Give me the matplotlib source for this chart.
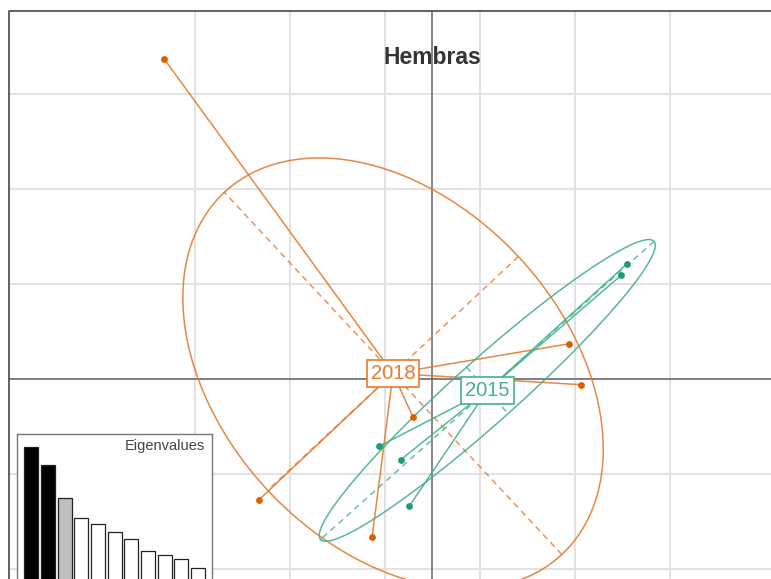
import matplotlib.pyplot as plt
import numpy as np

# scores of the individuals on the two first axes, by group
orange_x = [-2.82, 1.44, 1.57, -0.20, -1.82, -0.63, -0.41]
orange_y = [3.37, 0.37, -0.06, -0.40, -1.27, -1.66, 0.06]
green_x = [2.05, 1.99, -0.56, -0.33, -0.24]
green_y = [1.21, 1.09, -0.71, -0.85, -1.34]

groups = ["2018", "2015"]
eigenvalues = [14.3, 12.5, 9.2, 7.2, 6.6, 5.8, 5.1, 3.9, 3.5, 3.1, 2.2]
eig_colors = ["black", "black", "#BEBEBE"] + ["white"] * 8

title = "Hembras"
cellipse = 1.5

W, H = 771, 579
PX = 95.0           # pixels per unit
X0, Y0 = 432, 379   # origin in pixels


def ellipse(x, y, c):
    x = np.asarray(x)
    y = np.asarray(y)
    m = np.array([x.mean(), y.mean()])
    d = np.vstack([x - m[0], y - m[1]])
    cov = d @ d.T / len(x)
    vals, vecs = np.linalg.eigh(cov)
    a = c * np.sqrt(vals[1]) * vecs[:, 1]
    b = c * np.sqrt(vals[0]) * vecs[:, 0]
    t = np.linspace(0, 2 * np.pi, 200)
    pts = m[:, None] + np.outer(a, np.cos(t)) + np.outer(b, np.sin(t))
    return m, a, b, pts


plt.rcParams["font.family"] = ["Liberation Sans", "DejaVu Sans"]

fig = plt.figure(figsize=(W / 100, H / 100), dpi=100)
ax = fig.add_axes([0, 0, 1, 1])
ax.set_xlim(-X0 / PX, (W - X0) / PX)
ax.set_ylim((Y0 - H) / PX, Y0 / PX)
ax.axis("off")

left = (9 - X0) / PX
top = (Y0 - 11) / PX
right = ax.get_xlim()[1] + 1
bottom = ax.get_ylim()[0] - 1

# grid
for gx in np.arange(-2.5, 3.0, 1.0):
    ax.plot([gx, gx], [bottom, top], color="#E2E2E2", lw=1.4, zorder=0)
for gy in np.arange(-2, 4, 1):
    ax.plot([left, right], [gy, gy], color="#E2E2E2", lw=1.4, zorder=0)

# origin lines and frame
ax.plot([0, 0], [bottom, top], color="#666666", lw=1.1, zorder=2)
ax.plot([left, right], [0, 0], color="#666666", lw=1.1, zorder=2)
ax.plot([left, left, right], [bottom, top, top], color="#555555", lw=1.3, zorder=2)

ax.text(0, (Y0 - 58) / PX, title, ha="center", va="center", fontsize=16.5,
        fontweight="bold", color="#333333", zorder=1.5)

series = [
    (orange_x, orange_y, "#D95F02", "#E57A2E"),
    (green_x, green_y, "#1B9E77", "#45B08E"),
]

for (xs, ys, pcol, lcol), name in zip(series, groups):
    m, a, b, pts = ellipse(xs, ys, cellipse)
    ax.plot(pts[0], pts[1], color=lcol, lw=1.1, alpha=0.9, zorder=3)
    for v in (a, b):
        ax.plot([m[0] - v[0], m[0] + v[0]], [m[1] - v[1], m[1] + v[1]],
                color=lcol, lw=1.1, ls=(0, (4, 3)), alpha=0.8, zorder=3)
    for px, py in zip(xs, ys):
        ax.plot([m[0], px], [m[1], py], color=lcol, lw=1.1, alpha=0.9, zorder=3)
    ax.scatter(xs, ys, s=24, color=pcol, zorder=4, linewidths=0)
    ax.text(m[0], m[1], name, ha="center", va="center", fontsize=14.5,
            color=lcol, zorder=5,
            bbox=dict(boxstyle="square,pad=0.2", fc="white", ec=lcol, lw=1.2))

# eigenvalues inset
ins = fig.add_axes([17 / W, (H - 600) / H, (212 - 17) / W, (600 - 434) / H])
ins.bar(range(len(eigenvalues)), eigenvalues, width=0.84, color=eig_colors,
        edgecolor="#222222", linewidth=0.9)
ins.set_xlim(-0.86, 10.84)
ins.set_ylim(-1, 15.6)
ins.set_xticks([])
ins.set_yticks([])
for s in ins.spines.values():
    s.set_color("#777777")
    s.set_linewidth(1.0)
ins.text(0.965, 0.93, "Eigenvalues", transform=ins.transAxes, ha="right",
         va="center", fontsize=10.5, color="#444444")

fig.savefig("out.png", dpi=100)
